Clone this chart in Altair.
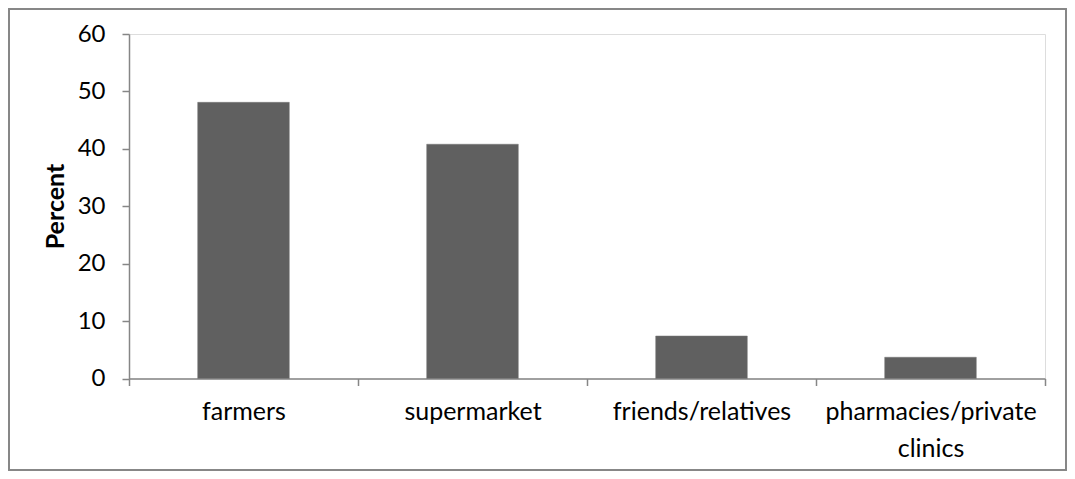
import altair as alt
import pandas as pd

categories = ["farmers", "supermarket", "friends/relatives", "pharmacies/private clinics"]
percent = [48.1, 40.8, 7.4, 3.7]
y_ticks = [0, 10, 20, 30, 40, 50, 60]

df = pd.DataFrame({"source": categories, "percent": percent})

FONT = "Lato"
GRAY = "#868686"

bars = alt.Chart(df).mark_bar(
    color="#606060", stroke="#777777", strokeWidth=0.5, width=alt.RelativeBandSize(0.4)
).encode(
    x=alt.X(
        "source:N",
        sort=categories,
        title=None,
        scale=alt.Scale(paddingInner=0, paddingOuter=0),
        axis=alt.Axis(
            labelAngle=0,
            tickBand="extent",
            domainColor=GRAY,
            tickColor=GRAY,
            tickSize=7,
            domainWidth=1.5,
            tickWidth=1.5,
            labelFont=FONT,
            labelFontSize=25,
            labelColor="#000000",
            labelPadding=14,
            labelLimit=0,
            labelLineHeight=37,
            labelExpr="datum.label == 'pharmacies/private clinics' ? ['pharmacies/private', 'clinics'] : datum.label",
        ),
    ),
    y=alt.Y(
        "percent:Q",
        title="Percent",
        scale=alt.Scale(domain=[0, 60], nice=False),
        axis=alt.Axis(
            values=y_ticks,
            grid=False,
            domainColor=GRAY,
            tickColor=GRAY,
            tickSize=7,
            domainWidth=1.5,
            tickWidth=1.5,
            labelFont=FONT,
            labelFontSize=24,
            labelColor="#000000",
            labelPadding=17,
            titleFont=FONT,
            titleFontSize=25,
            titleFontWeight="bold",
            titleColor="#000000",
            titleX=-74,
            titleY=172,
            titleAngle=270,
            titleAlign="center",
            titleBaseline="middle",
        ),
    ),
)

border = alt.Chart(df).mark_rect(fill="transparent", stroke=GRAY, strokeWidth=1.5).encode(
    x=alt.value(-120),
    x2=alt.value(937),
    y=alt.value(-25),
    y2=alt.value(436),
)

chart = alt.layer(bars, border).properties(
    width=916,
    height=344.5,
    autosize=alt.AutoSizeParams(type="none"),
    padding={"left": 121, "top": 26, "right": 22, "bottom": 92},
).configure_view(stroke=None).configure(background="white")

chart.save("out.html", embed_options={"renderer": "svg", "actions": False})
